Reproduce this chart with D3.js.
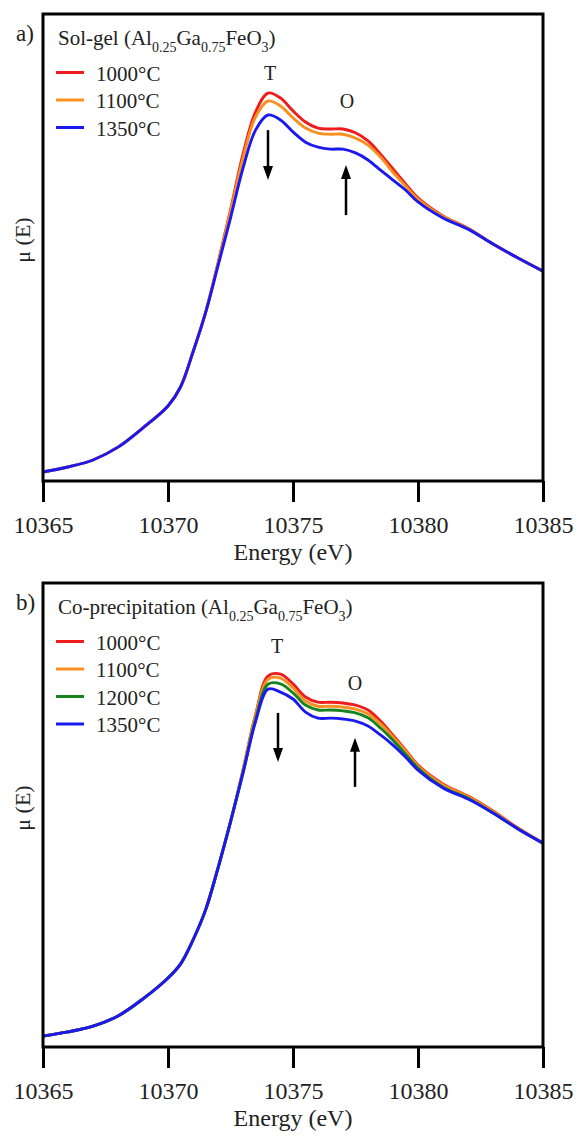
<!DOCTYPE html>
<html>
<head>
<meta charset="utf-8">
<script src="https://cdn.jsdelivr.net/npm/d3@7"></script>
<style>
  body { margin: 0; background: #fff; }
  svg { display: block; }
  text { font-family: "Liberation Serif", "Times New Roman", serif; fill: #222; }
</style>
</head>
<body>
<div id="chart"></div>
<script>
// Energy grid (eV)
var energy = [10365, 10366, 10367, 10368, 10369, 10370, 10370.5, 10371, 10371.5, 10372, 10372.5,
  10373, 10373.5, 10374, 10374.5, 10375, 10375.5, 10376, 10376.5, 10377, 10377.5,
  10378, 10378.5, 10379, 10379.5, 10380, 10381, 10382, 10383, 10384, 10385];

// a) Sol-gel
var solGel1000 = [0.031, 0.048, 0.072, 0.116, 0.182, 0.257, 0.322, 0.442, 0.576, 0.747, 0.928,
  1.120, 1.264, 1.329, 1.312, 1.268, 1.230, 1.209, 1.206, 1.206, 1.193,
  1.165, 1.120, 1.069, 1.018, 0.970, 0.908, 0.866, 0.812, 0.764, 0.719];
var solGel1100 = [0.031, 0.048, 0.072, 0.116, 0.182, 0.257, 0.322, 0.442, 0.576, 0.744, 0.922,
  1.106, 1.247, 1.302, 1.285, 1.244, 1.209, 1.192, 1.188, 1.188, 1.175,
  1.151, 1.110, 1.058, 1.011, 0.966, 0.906, 0.865, 0.812, 0.764, 0.719];
var solGel1350 = [0.031, 0.048, 0.072, 0.116, 0.182, 0.257, 0.322, 0.442, 0.576, 0.737, 0.901,
  1.072, 1.202, 1.254, 1.237, 1.196, 1.161, 1.144, 1.137, 1.137, 1.124,
  1.100, 1.065, 1.031, 0.997, 0.956, 0.901, 0.863, 0.812, 0.764, 0.719];

// b) Co-precipitation
var coPrec1000 = [0.038, 0.052, 0.072, 0.107, 0.166, 0.238, 0.286, 0.369, 0.472, 0.617, 0.776,
  0.955, 1.145, 1.279, 1.286, 1.252, 1.207, 1.189, 1.189, 1.186, 1.179,
  1.162, 1.124, 1.075, 1.024, 0.972, 0.907, 0.865, 0.814, 0.755, 0.703];
var coPrec1100 = [0.038, 0.052, 0.072, 0.107, 0.166, 0.238, 0.286, 0.369, 0.472, 0.617, 0.776,
  0.955, 1.142, 1.268, 1.272, 1.238, 1.193, 1.175, 1.175, 1.172, 1.165,
  1.148, 1.114, 1.069, 1.021, 0.969, 0.904, 0.863, 0.812, 0.754, 0.703];
var coPrec1200 = [0.038, 0.052, 0.072, 0.107, 0.166, 0.238, 0.286, 0.369, 0.472, 0.617, 0.776,
  0.945, 1.128, 1.251, 1.252, 1.221, 1.179, 1.162, 1.162, 1.159, 1.152,
  1.135, 1.100, 1.058, 1.010, 0.962, 0.896, 0.858, 0.807, 0.752, 0.703];
var coPrec1350 = [0.038, 0.052, 0.072, 0.107, 0.166, 0.238, 0.286, 0.369, 0.472, 0.617, 0.776,
  0.945, 1.121, 1.234, 1.224, 1.200, 1.155, 1.134, 1.134, 1.131, 1.124,
  1.107, 1.076, 1.041, 1.000, 0.955, 0.893, 0.855, 0.807, 0.752, 0.703];

var xTicks = [10365, 10370, 10375, 10380, 10385];
var tempColors = {"1000°C": "#ee1c1c", "1100°C": "#f7901e", "1200°C": "#17851f", "1350°C": "#1a1af0"};

var width = 577, height = 1137;
var svg = d3.select("#chart").append("svg")
    .attr("width", width)
    .attr("height", height);

var x = d3.scaleLinear().domain([10365, 10385]).range([43, 543]);

function drawPanel(cfg) {
    var y = d3.scaleLinear().domain([0, 1.6]).range([cfg.bottom, cfg.top]);
    var g = svg.append("g");

    var line = d3.line()
        .x(function(d) { return x(d[0]); })
        .y(function(d) { return y(d[1]); })
        .curve(d3.curveCatmullRom.alpha(0.5));

    // curves, drawn so the lowest one sits on top
    cfg.series.forEach(function(s) {
        g.append("path")
            .datum(energy.map(function(e, i) { return [e, s.values[i]]; }))
            .attr("d", line)
            .attr("fill", "none")
            .attr("stroke", tempColors[s.name])
            .attr("stroke-width", 2.9)
            .attr("stroke-linejoin", "round");
    });

    // frame
    g.append("rect")
        .attr("x", x(10365))
        .attr("y", cfg.top)
        .attr("width", x(10385) - x(10365))
        .attr("height", cfg.bottom - cfg.top)
        .attr("fill", "none")
        .attr("stroke", "#000")
        .attr("stroke-width", 3);

    // x axis
    var axis = g.append("g")
        .attr("transform", "translate(0," + cfg.bottom + ")")
        .call(d3.axisBottom(x).tickValues(xTicks).tickFormat(d3.format("d")).tickSize(21));
    axis.select(".domain").remove();
    axis.selectAll(".tick line").attr("stroke", "#000").attr("stroke-width", 3);
    axis.selectAll(".tick text")
        .style("font-size", "24px")
        .attr("fill", "#222")
        .attr("dy", null)
        .attr("y", 52);

    g.append("text")
        .attr("x", x(10375))
        .attr("y", cfg.bottom + 79)
        .attr("text-anchor", "middle")
        .style("font-size", "24px")
        .text("Energy (eV)");

    g.append("text")
        .attr("transform", "translate(30," + cfg.yLabelMid + ") rotate(-90)")
        .attr("text-anchor", "middle")
        .style("font-size", "22px")
        .text("μ (E)");

    // panel tag
    g.append("text")
        .attr("x", 16)
        .attr("y", cfg.top + 27)
        .style("font-size", "23px")
        .text(cfg.tag);

    // title with subscripts
    var t = g.append("text")
        .attr("x", 58)
        .attr("y", cfg.top + 31)
        .style("font-size", "21px");
    var parts = [[cfg.title + " (Al", 0], ["0.25", 1], ["Ga", 0], ["0.75", 1], ["FeO", 0], ["3", 1], [")", 0]];
    var shifted = false;
    parts.forEach(function(p) {
        var ts = t.append("tspan").text(p[0]);
        if (p[1]) {
            ts.style("font-size", "14px").attr("dy", shifted ? 0 : 7);
            shifted = true;
        } else {
            ts.attr("dy", shifted ? -7 : 0);
            shifted = false;
        }
    });

    // legend
    var legendNames = cfg.series.map(function(s) { return s.name; }).sort();
    legendNames.forEach(function(name, i) {
        var ly = cfg.top + 58.5 + i * 27.5;
        g.append("line")
            .attr("x1", 56).attr("x2", 84)
            .attr("y1", ly).attr("y2", ly)
            .attr("stroke", tempColors[name])
            .attr("stroke-width", 3);
        g.append("text")
            .attr("x", 96)
            .attr("y", ly + 8)
            .style("font-size", "21px")
            .text(name);
    });

    // T / O labels
    cfg.labels.forEach(function(l) {
        g.append("text")
            .attr("x", x(l.e))
            .attr("y", y(l.mu))
            .attr("text-anchor", "middle")
            .style("font-size", "20px")
            .text(l.text);
    });

    // arrows
    cfg.arrows.forEach(function(a) {
        var x0 = x(a.e), y0 = y(a.from), y1 = y(a.to);
        var dir = y1 > y0 ? 1 : -1;
        g.append("line")
            .attr("x1", x0).attr("x2", x0)
            .attr("y1", y0).attr("y2", y1 - dir * 10)
            .attr("stroke", "#000")
            .attr("stroke-width", 2.5);
        g.append("path")
            .attr("d", "M" + (x0 - 5) + "," + (y1 - dir * 14) + "L" + (x0 + 5) + "," + (y1 - dir * 14) + "L" + x0 + "," + y1 + "Z")
            .attr("fill", "#000");
    });
}

drawPanel({
    top: 14, bottom: 481, tag: "a)", title: "Sol-gel", yLabelMid: 240,
    series: [
        {name: "1000°C", values: solGel1000},
        {name: "1100°C", values: solGel1100},
        {name: "1350°C", values: solGel1350}
    ],
    labels: [{text: "T", e: 10374.08, mu: 1.374}, {text: "O", e: 10377.16, mu: 1.278}],
    arrows: [{e: 10374.0, from: 1.202, to: 1.031}, {e: 10377.12, from: 0.911, to: 1.083}]
});

drawPanel({
    top: 583, bottom: 1047, tag: "b)", title: "Co-precipitation", yLabelMid: 808,
    series: [
        {name: "1000°C", values: coPrec1000},
        {name: "1100°C", values: coPrec1100},
        {name: "1200°C", values: coPrec1200},
        {name: "1350°C", values: coPrec1350}
    ],
    labels: [{text: "T", e: 10374.36, mu: 1.359}, {text: "O", e: 10377.48, mu: 1.231}],
    arrows: [{e: 10374.4, from: 1.152, to: 0.983}, {e: 10377.48, from: 0.897, to: 1.066}]
});
</script>
</body>
</html>
